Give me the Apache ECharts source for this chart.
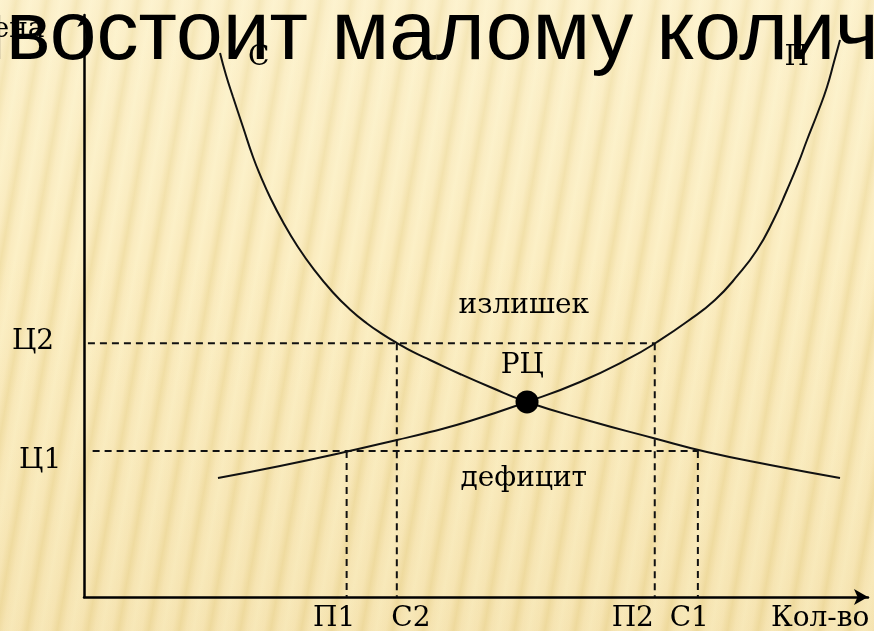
<!DOCTYPE html>
<html>
<head>
<meta charset="utf-8">
<script src="https://cdn.jsdelivr.net/npm/echarts@6/dist/echarts.min.js"></script>
<style>
  html, body { margin: 0; padding: 0; }
  #bg {
    position: absolute; left: 0; top: 0; width: 874px; height: 631px;
    background:
      linear-gradient(to bottom, rgba(255,252,235,0.25) 0%, rgba(255,250,230,0) 40%, rgba(205,160,60,0.10) 100%),
      repeating-linear-gradient(100deg, #FCF0C6 0px, #FAEBBE 9px, #F2E0A8 16px, #FAEBBE 23px, #FCF0C6 30px);
  }
  #chart { position: absolute; left: 0; top: 0; width: 874px; height: 631px; }
</style>
</head>
<body>
<div id="bg"></div>
<div id="chart"></div>
<script>
// ---- data (in abstract units 0..100) ----
const demandQ = [17.35, 18.11, 19.01, 20.28, 21.56, 22.58, 23.72, 25.38, 27.17, 29.34, 31.76, 33.93, 36.10,
                 38.01, 39.92, 41.96, 44.13, 47.96, 51.79, 56.51, 64.54, 72.58, 79.46, 87.50, 96.43];
const demandP = [93.47, 89.69, 85.91, 80.76, 75.60, 72.16, 68.73, 64.43, 60.40, 56.24, 52.32, 49.40, 46.99,
                 45.22, 43.64, 42.10, 40.72, 38.32, 36.08, 33.51, 30.24, 27.32, 24.91, 22.68, 20.45];
const supplyQ = [17.09, 25.00, 33.29, 39.92, 44.13, 49.23, 56.51, 63.27, 69.64, 73.09, 77.04, 80.48, 83.42,
                 85.84, 87.88, 89.67, 91.07, 92.22, 93.62, 94.77, 95.66, 96.43];
const supplyP = [20.45, 22.51, 24.91, 26.98, 28.35, 30.24, 33.51, 36.94, 41.07, 43.81, 47.42, 51.03, 55.33,
                 59.62, 64.60, 69.93, 74.40, 78.52, 83.33, 87.63, 91.92, 95.70];
const equilibrium = [56.51, 33.51];
const priceNames = ['Ц1', 'Ц2'];
const priceValues = [25.1, 43.6];
const qtyNames = ['П1', 'С2', 'П2', 'С1'];
const qtyValues = [33.5, 39.9, 72.8, 78.3];
const qtyPrice = [25.1, 43.6, 43.6, 25.1];
const hLineStart = [1.1, 0.5];
const hLineEnd = [78.3, 72.8];
const titleText = 'противостоит малому количеству';
// annotation texts and their anchor positions (layout)
const annoText = ['Цена', 'С', 'П', 'излишек', 'РЦ', 'дефицит', 'Ц2', 'Ц1', 'П1', 'С2', 'П2', 'С1', 'Кол-во'];
const annoX = [-9.9, 22.3, 90.9, 56.1, 55.9, 56.1, -6.5, -5.6, 31.9, 41.7, 70.0, 77.2, 93.9];
const annoY = [97.4, 92.6, 92.6, 50.0, 39.7, 20.3, 43.8, 23.5, -3.8, -3.8, -3.8, -3.8, -3.8];

const chart = echarts.init(document.getElementById('chart'), null, { renderer: 'canvas' });

const dashStyle = { color: '#111', width: 2, type: [7, 5] };
const dashSeries = [];
for (let i = 0; i < priceValues.length; i++) {
  dashSeries.push({
    type: 'line', silent: true, symbol: 'none', z: 2,
    data: [[hLineStart[i], priceValues[i]], [hLineEnd[i], priceValues[i]]],
    lineStyle: dashStyle
  });
}
for (let i = 0; i < qtyValues.length; i++) {
  dashSeries.push({
    type: 'line', silent: true, symbol: 'none', z: 2,
    data: [[qtyValues[i], qtyPrice[i]], [qtyValues[i], 0]],
    lineStyle: dashStyle
  });
}

const serif = '"DejaVu Serif", "Liberation Serif", serif';

const ctx = document.createElement('canvas').getContext('2d');
ctx.font = '84px "Liberation Sans"';
const titleOffset = ctx.measureText('проти').width;

chart.setOption({
  animation: false,
  backgroundColor: 'transparent',
  grid: { left: 84, right: 6, top: 15, bottom: 34 },
  xAxis: {
    type: 'value', min: 0, max: 100,
    axisLine: { show: true, onZero: false, lineStyle: { color: '#000', width: 2.5 },
      symbol: ['none', 'arrow'], symbolSize: [12, 14] },
    axisTick: { show: false }, axisLabel: { show: false }, splitLine: { show: false }
  },
  yAxis: {
    type: 'value', min: 0, max: 100,
    axisLine: { show: true, onZero: false, lineStyle: { color: '#000', width: 2.5 },
      symbol: ['none', 'arrow'], symbolSize: [10, 12] },
    axisTick: { show: false }, axisLabel: { show: false }, splitLine: { show: false }
  },
  graphic: [{
    type: 'text', z: 100, left: 6 - titleOffset, top: -6,
    style: { text: titleText, font: '84px "Liberation Sans"', fill: '#000' }
  }],
  series: [
    ...dashSeries,
    {
      name: 'С', type: 'line', smooth: 0.5, symbol: 'none', z: 3,
      data: demandQ.map((q, i) => [q, demandP[i]]),
      lineStyle: { color: '#111', width: 2 }
    },
    {
      name: 'П', type: 'line', smooth: 0.5, symbol: 'none', z: 3,
      data: supplyQ.map((q, i) => [q, supplyP[i]]),
      lineStyle: { color: '#111', width: 2 }
    },
    {
      type: 'scatter', z: 4, symbol: 'circle', symbolSize: 23,
      itemStyle: { color: '#000', opacity: 1 },
      data: [equilibrium]
    },
    {
      type: 'scatter', z: 5, symbolSize: 0, clip: false, silent: true,
      itemStyle: { opacity: 1 },
      data: annoText.map((t, i) => ({ name: t, value: [annoX[i], annoY[i]] })),
      label: {
        show: true, position: 'inside', formatter: p => p.name,
        fontFamily: serif, fontSize: 28, color: '#000', align: 'center', verticalAlign: 'middle'
      }
    }
  ]
});
</script>
</body>
</html>
